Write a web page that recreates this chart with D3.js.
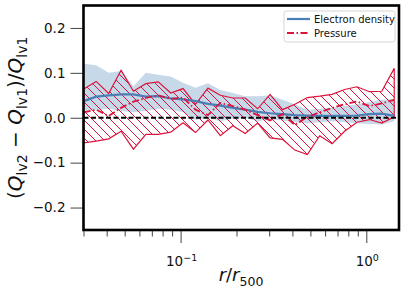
<!DOCTYPE html>
<html lang="en">
<head>
  <meta charset="UTF-8">
  <title>Level comparison</title>
  <script src="https://d3js.org/d3.v7.min.js"></script>
  <style>
    body { margin: 0; padding: 0; background: #fff; overflow: hidden; }
    svg { display: block; font-family: "DejaVu Sans", sans-serif; }
    .tick line { stroke: #444; }
    .tick text { fill: #111; }
  </style>
</head>
<body>
  <svg id="chart" width="407" height="294"></svg>

  <script>
    // —— data ——
    const radii = [0.0301, 0.0351, 0.0410, 0.0478, 0.0557, 0.0650, 0.0758, 0.0885, 0.1031, 0.1203,
                   0.1404, 0.1637, 0.1910, 0.2228, 0.2600, 0.3032, 0.3537, 0.4125, 0.4813, 0.5613,
                   0.6548, 0.7638, 0.8910, 1.039, 1.212, 1.414];

    const densityMid  = [0.037, 0.047, 0.050, 0.052, 0.052, 0.047, 0.048, 0.043, 0.041, 0.037,
                         0.031, 0.027, 0.022, 0.018, 0.013, 0.010, 0.008, 0.006, 0.005, 0.004,
                         0.004, 0.004, 0.005, 0.008, 0.009, 0.004];
    const densityHigh = [0.120, 0.117, 0.100, 0.104, 0.070, 0.100, 0.096, 0.092, 0.078, 0.067,
                         0.077, 0.062, 0.055, 0.048, 0.048, 0.050, 0.040, 0.030, 0.018, 0.020,
                         0.022, 0.026, 0.030, 0.035, 0.040, 0.042];
    const densityLow  = [0.015, 0.018, 0.020, 0.015, 0.012, 0.015, 0.020, 0.018, 0.012, -0.005,
                         0.000, -0.008, -0.002, 0.000, -0.008, -0.004, -0.006, -0.010, -0.012, -0.010,
                         -0.008, -0.010, -0.012, -0.014, -0.015, -0.008];

    const pressureMid  = [0.012, 0.018, 0.004, 0.022, 0.036, 0.044, 0.050, 0.042, 0.045, 0.018,
                          0.006, 0.033, 0.026, 0.018, 0.006, -0.006, 0.008, -0.016, 0.002, 0.012,
                          0.022, 0.030, 0.036, 0.026, 0.032, 0.040];
    const pressureHigh = [0.064, 0.081, 0.054, 0.106, 0.059, 0.076, 0.080, 0.055, 0.065, 0.030,
                          0.066, 0.050, 0.044, 0.044, 0.020, 0.052, 0.018, 0.030, 0.045, 0.048,
                          0.052, 0.063, 0.069, 0.058, 0.059, 0.110];
    const pressureLow  = [-0.056, -0.052, -0.047, -0.030, -0.070, -0.037, -0.037, -0.032, -0.011, -0.033,
                          -0.005, -0.040, -0.018, -0.035, -0.012, -0.045, -0.048, -0.072, -0.082, -0.040,
                          -0.058, -0.030, -0.010, -0.004, -0.012, 0.002];

    const yTicks = [-0.2, -0.1, 0.0, 0.1, 0.2];
    const xMajor = [0.1, 1];
    const xMajorExp = ["−1", "0"];
    const xMinor = [0.03, 0.04, 0.05, 0.06, 0.07, 0.08, 0.09, 0.2, 0.3, 0.4, 0.5, 0.6, 0.7, 0.8, 0.9];
    const legendLabels = ["Electron density", "Pressure"];

    // —— layout ——
    const svg = d3.select("#chart");
    const m = { left: 83.5, right: 399, top: 5.5, bottom: 230 };

    const x = d3.scaleLog().domain([0.03, 1.5]).range([m.left, m.right]);
    const y = d3.scaleLinear().domain([-0.25, 0.25]).range([m.bottom, m.top]);

    const blue = "#4a7fb5", red = "#dc143c";

    const defs = svg.append("defs");
    defs.append("clipPath").attr("id", "clip")
      .append("rect").attr("x", m.left).attr("y", m.top)
      .attr("width", m.right - m.left).attr("height", m.bottom - m.top);

    const pat = defs.append("pattern").attr("id", "hatch")
      .attr("patternUnits", "userSpaceOnUse").attr("width", 9).attr("height", 9);
    pat.append("path")
      .attr("d", "M0,0L9,9M-1,8L1,10M8,-1L10,1")
      .attr("stroke", red).attr("stroke-width", 1);

    const plot = svg.append("g").attr("clip-path", "url(#clip)");

    const idx = d3.range(radii.length);

    // density band
    plot.append("path")
      .datum(idx)
      .attr("fill", "steelblue").attr("fill-opacity", 0.3)
      .attr("d", d3.area().x(i => x(radii[i])).y0(i => y(densityLow[i])).y1(i => y(densityHigh[i])));

    // pressure hatched band
    plot.append("path")
      .datum(idx)
      .attr("fill", "url(#hatch)").attr("stroke", red).attr("stroke-width", 1.2)
      .attr("stroke-linejoin", "miter")
      .attr("d", d3.area().x(i => x(radii[i])).y0(i => y(pressureLow[i])).y1(i => y(pressureHigh[i])));

    plot.append("path")
      .datum(idx)
      .attr("fill", "none").attr("stroke", blue).attr("stroke-width", 2.2)
      .attr("d", d3.line().x(i => x(radii[i])).y(i => y(densityMid[i])));

    plot.append("path")
      .datum(idx)
      .attr("fill", "none").attr("stroke", red).attr("stroke-width", 1.8)
      .attr("stroke-dasharray", "7,2.5,1.5,2.5")
      .attr("d", d3.line().x(i => x(radii[i])).y(i => y(pressureMid[i])));

    // zero line
    plot.append("line")
      .attr("x1", m.left).attr("x2", m.right)
      .attr("y1", y(0)).attr("y2", y(0))
      .attr("stroke", "#000").attr("stroke-width", 1.8)
      .attr("stroke-dasharray", "5,2.5");

    // —— axes ——
    const yAxis = svg.append("g")
      .attr("transform", `translate(${m.left},0)`)
      .call(d3.axisLeft(y).tickValues(yTicks).tickSize(13).tickPadding(5)
        .tickFormat(d3.format(".1f")));
    yAxis.select(".domain").remove();
    yAxis.selectAll("text").attr("font-size", 13.5).attr("font-family", "DejaVu Sans");

    const xMinAxis = svg.append("g")
      .attr("transform", `translate(0,${m.bottom})`)
      .call(d3.axisBottom(x).tickValues(xMinor).tickSize(6.5).tickFormat(""));
    xMinAxis.select(".domain").remove();

    const xAxis = svg.append("g")
      .attr("transform", `translate(0,${m.bottom})`)
      .call(d3.axisBottom(x).tickValues(xMajor).tickSize(13).tickFormat(""));
    xAxis.select(".domain").remove();

    xMajor.forEach((v, k) => {
      const t = svg.append("text")
        .attr("x", x(v) + 1).attr("y", 266)
        .attr("text-anchor", "middle")
        .attr("font-size", 13.5).attr("fill", "#111");
      t.append("tspan").text("10");
      t.append("tspan").attr("font-size", 9.5).attr("dy", -5).text(xMajorExp[k]);
    });

    // frame
    svg.append("rect")
      .attr("x", m.left).attr("y", m.top)
      .attr("width", m.right - m.left).attr("height", m.bottom - m.top)
      .attr("fill", "none").attr("stroke", "#000").attr("stroke-width", 2.6);

    // axis labels
    const xl = svg.append("text")
      .attr("x", 241).attr("y", 281)
      .attr("text-anchor", "middle").attr("font-size", 18).attr("fill", "#111");
    xl.append("tspan").attr("font-style", "italic").text("r");
    xl.append("tspan").text("/");
    xl.append("tspan").attr("font-style", "italic").text("r");
    xl.append("tspan").attr("font-size", 12.5).attr("dy", 5).text("500");

    const yl = svg.append("text")
      .attr("transform", `translate(22,${(m.top + m.bottom) / 2}) rotate(-90)`)
      .attr("text-anchor", "middle").attr("font-size", 20).attr("fill", "#111");
    const sub = (txt) => yl.append("tspan").attr("font-size", 14).attr("dy", 4.5).text(txt);
    const up = (txt) => yl.append("tspan").attr("dy", -4.5).text(txt);
    yl.append("tspan").text("(");
    yl.append("tspan").attr("font-style", "italic").text("Q");
    sub("lv2");
    up(" − ");
    yl.append("tspan").attr("font-style", "italic").text("Q");
    sub("lv1");
    up(")/");
    yl.append("tspan").attr("font-style", "italic").text("Q");
    sub("lv1");

    // —— legend ——
    const lg = svg.append("g");
    lg.append("rect")
      .attr("x", 284).attr("y", 11).attr("width", 111).attr("height", 31).attr("rx", 2.5)
      .attr("fill", "#fff").attr("fill-opacity", 0.85)
      .attr("stroke", "#ccc").attr("stroke-width", 0.8);
    const legStyles = [
      { color: blue, dash: null, w: 2.2 },
      { color: red, dash: "7,2.5,1.5,2.5", w: 1.8 }
    ];
    legendLabels.forEach((lab, k) => {
      const ly = 19 + k * 14;
      lg.append("line")
        .attr("x1", 287).attr("x2", 310).attr("y1", ly).attr("y2", ly)
        .attr("stroke", legStyles[k].color).attr("stroke-width", legStyles[k].w)
        .attr("stroke-dasharray", legStyles[k].dash);
      lg.append("text")
        .attr("x", 314).attr("y", ly + 3.6)
        .attr("font-size", 10).attr("fill", "#111").text(lab);
    });
  </script>
</body>
</html>
